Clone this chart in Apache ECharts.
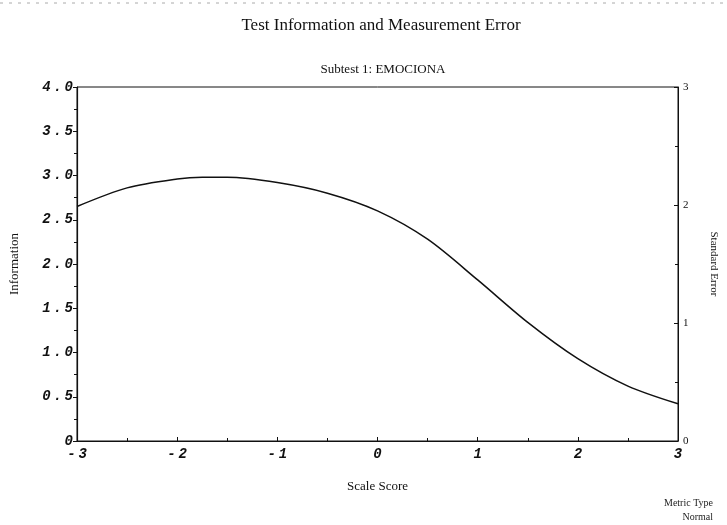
<!DOCTYPE html>
<html>
<head>
<meta charset="utf-8">
<script src="https://cdn.jsdelivr.net/npm/echarts@6/dist/echarts.min.js"></script>
<style>html,body{margin:0;padding:0;background:#fff;}#c{width:727px;height:525px;}</style>
</head>
<body>
<div id="c"></div>
<script>
var scaleScores = [-3, -2.5, -2, -1.75, -1.5, -1, -0.5, 0, 0.5, 1, 1.5, 2, 2.5, 3];
var information = [2.65, 2.86, 2.96, 2.98, 2.98, 2.92, 2.80, 2.60, 2.28, 1.82, 1.34, 0.93, 0.62, 0.42];
var leftTicks = [0, 0.5, 1, 1.5, 2, 2.5, 3, 3.5, 4];
var rightTicks = [0, 1, 2, 3];
var xTicks = [-3, -2, -1, 0, 1, 2, 3];

var chart = echarts.init(document.getElementById('c'));
var serif = '"Liberation Serif", "DejaVu Serif", serif';
var mono = '"Liberation Mono", "DejaVu Sans Mono", monospace';
var pts = scaleScores.map(function (x, i) { return [x, information[i]]; });
function spaced(s) { return s.split('').join('\u2009'); }

chart.setOption({
  animation: false,
  backgroundColor: '#fff',
  title: [
    { text: 'Test Information and Measurement Error', left: 376, top: 12, textAlign: 'center',
      textStyle: { fontFamily: serif, fontSize: 17, fontWeight: 'normal', color: '#111' } },
    { text: 'Subtest 1: EMOCIONA', left: 378, top: 58, textAlign: 'center',
      textStyle: { fontFamily: serif, fontSize: 13, fontWeight: 'normal', color: '#111' } }
  ],
  grid: { left: 76, right: 48, top: 87, bottom: 84, show: true, borderColor: '#111', borderWidth: 1 },
  xAxis: {
    type: 'value', min: xTicks[0], max: xTicks[xTicks.length - 1], interval: 1,
    name: 'Scale Score', nameLocation: 'middle', nameGap: 39,
    nameTextStyle: { fontFamily: serif, fontSize: 13, color: '#111' },
    axisLine: { onZero: false, lineStyle: { color: '#111', width: 1.2 } },
    axisTick: { inside: true, length: 4, lineStyle: { color: '#111' } },
    minorTick: { show: true, splitNumber: 2, length: 3, lineStyle: { color: '#111' } },
    splitLine: { show: false },
    axisLabel: { fontFamily: mono, fontStyle: 'italic', fontWeight: 'bold', fontSize: 14, color: '#111', margin: 6,
      formatter: function (v) { return spaced(String(v)); } }
  },
  yAxis: [
    {
      type: 'value', min: leftTicks[0], max: leftTicks[leftTicks.length - 1], interval: 0.5,
      name: 'Information', nameLocation: 'middle', nameGap: 56, nameRotate: 90,
      nameTextStyle: { fontFamily: serif, fontSize: 13, color: '#111' },
      axisLine: { show: true, onZero: false, lineStyle: { color: '#111', width: 1.2 } },
      axisTick: { show: true, length: 4, lineStyle: { color: '#111' } },
      minorTick: { show: true, splitNumber: 2, length: 3, lineStyle: { color: '#111' } },
      splitLine: { show: false },
      axisLabel: { fontFamily: mono, fontStyle: 'italic', fontWeight: 'bold', fontSize: 14, color: '#111', margin: 4,
        formatter: function (v) { return v === 0 ? '0' : spaced(v.toFixed(1)); } }
    },
    {
      type: 'value', min: rightTicks[0], max: rightTicks[rightTicks.length - 1], interval: 1, position: 'right',
      name: 'Standard Error', nameLocation: 'middle', nameGap: 30, nameRotate: -90,
      nameTextStyle: { fontFamily: serif, fontSize: 11, color: '#111' },
      axisLine: { show: true, onZero: false, lineStyle: { color: '#111', width: 1 } },
      axisTick: { show: true, inside: true, length: 4, lineStyle: { color: '#111' } },
      minorTick: { show: true, splitNumber: 2, length: 3, lineStyle: { color: '#111' } },
      splitLine: { show: false },
      axisLabel: { fontFamily: serif, fontSize: 11, color: '#111', margin: 5 }
    }
  ],
  series: [{
    type: 'line', yAxisIndex: 0, data: pts, smooth: 0.3, showSymbol: false,
    lineStyle: { color: '#111', width: 1.5 }
  }],
  graphic: [
    { type: 'text', right: 14, top: 498, style: { text: 'Metric Type', fontFamily: serif, fontSize: 10, fill: '#222' } },
    { type: 'text', right: 14, top: 512, style: { text: 'Normal', fontFamily: serif, fontSize: 10, fill: '#222' } },
    { type: 'line', shape: { x1: 0, y1: 3, x2: 727, y2: 3 }, style: { stroke: '#aaa', lineWidth: 1, lineDash: [3, 6] } }
  ]
});
</script>
</body>
</html>
